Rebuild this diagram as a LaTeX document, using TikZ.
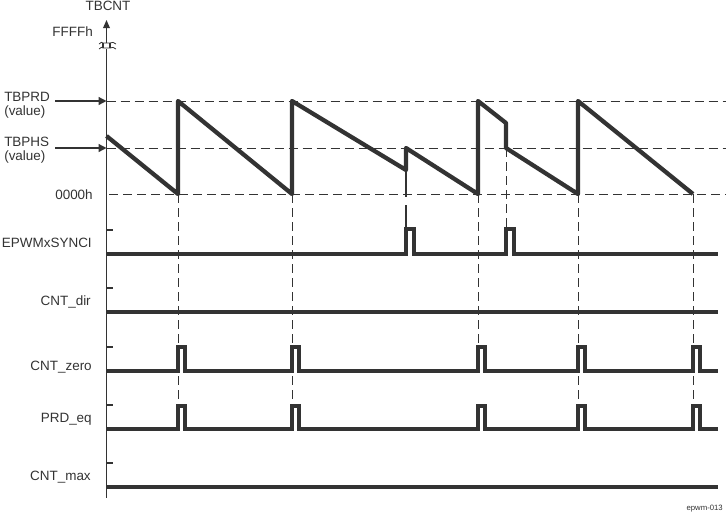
\documentclass[tikz,border=0pt]{standalone}
\usepackage{fontspec}
\setmainfont{Liberation Sans}
\usetikzlibrary{arrows.meta}
\definecolor{ink}{HTML}{333333}
\begin{document}
\begin{tikzpicture}[x=0.75pt,y=-0.75pt,
  lbl/.style={font=\fontsize{10.1}{12}\selectfont, text=ink, inner sep=0pt},
  guide/.style={ink, line width=0.75pt, dash pattern=on 6.75pt off 3.75pt},
  wave/.style={ink, line width=2.5pt, line join=miter},
  saw/.style={ink, line width=3.2pt, line join=round},
  tickm/.style={ink, line width=2pt},
  axisl/.style={ink, line width=1pt},
  lvlarrow/.style={axisl, -{Triangle[length=6pt,width=6pt]}}]
\useasboundingbox (0,0) rectangle (726,515);

% labels
\node[lbl, anchor=base] (tbcnt) at (108,10) {TBCNT};
\node[lbl, anchor=base east] (ffff) at (93,36) {FFFFh};
\node[lbl, anchor=base west] (tbprd) at (4,101) {TBPRD};
\node[lbl, anchor=base west] (tbprdv) at (4,115.5) {(value)};
\node[lbl, anchor=base west] (tbphs) at (4,146.5) {TBPHS};
\node[lbl, anchor=base west] (tbphsv) at (4,160.5) {(value)};
\node[lbl, anchor=base east] (zero) at (93,199) {0000h};
\node[lbl, anchor=base east] (sync) at (92,247) {EPWMxSYNCI};
\node[lbl, anchor=base east] (dir) at (91,305) {CNT\_dir};
\node[lbl, anchor=base east] (czero) at (92,370) {CNT\_zero};
\node[lbl, anchor=base east] (prdeq) at (92,422) {PRD\_eq};
\node[lbl, anchor=base east] (cmax) at (91,480) {CNT\_max};
\node[font=\fontsize{5.8}{7}\selectfont, text=ink, inner sep=0pt, anchor=base east] (fig) at (723,510) {epwm-013};

% horizontal guides
\draw[guide] (106.5,101) -- (726,101);
\draw[guide] (106.5,148) -- (726,148);
\draw[guide] (109,194) -- (726,194);

% level arrows
\coordinate (prdA) at (55,101);
\coordinate (prdB) at (106.5,101);
\coordinate (phsA) at (55,148);
\coordinate (phsB) at (106.5,148);
\draw[lvlarrow] (prdA) -- (prdB);
\draw[lvlarrow] (phsA) -- (phsB);

% axis
\coordinate (axtop) at (106.5,20);
\coordinate (axbrk1) at (106.5,43);
\coordinate (axbrk2) at (106.5,49);
\coordinate (axbot) at (106.5,498);
\draw[axisl, -{Triangle[length=6pt,width=5pt]}] (axbrk1) -- (axtop);
\draw[axisl] (axbrk2) -- (axbot);
% break symbol
\draw[ink, line width=0.6pt] (99,44) .. controls (101,42) and (102,42) .. (103,43) -- (110,43) .. controls (112,42) and (114,42) .. (116,44);
\draw[ink, line width=0.6pt] (99,49) .. controls (101,47) and (102,47) .. (103,48) -- (110,48) .. controls (112,47) and (114,47) .. (116,49);
\draw[ink, line width=0.8pt] (103,43) -- (103,48);
\draw[ink, line width=0.8pt] (110,43) -- (110,48);

% sawtooth
\draw[saw] (106.5,136) -- (178,194) -- (178,101) -- (292,194) -- (292,101)
  -- (406,170) -- (406,148) -- (478,194) -- (478,101) -- (506,123)
  -- (506,148) -- (578,194) -- (578,101) -- (693,194);

% vertical guides
\draw[guide] (178,194) -- (178,406);
\draw[guide] (292,194) -- (292,406);
\draw[guide] (478,194) -- (478,347);
\draw[guide] (578,194) -- (578,406);
\draw[guide] (693,194) -- (693,406);
\draw[ink, line width=2pt] (406,170) -- (406,197);
\draw[ink, line width=2pt] (406,205) -- (406,229);
\draw[guide] (506,148) -- (506,229);

% row ticks
\foreach \yy in {230,288,347,405,463}
  \draw[tickm] (107,\yy) -- (113,\yy);

% EPWMxSYNCI
\draw[wave] (106.5,254) -- (406,254) -- (406,229) -- (414,229) -- (414,254)
  -- (506,254) -- (506,229) -- (514,229) -- (514,254) -- (718,254);
% CNT_dir
\draw[wave] (106.5,312) -- (718,312);
% CNT_zero
\draw[wave] (106.5,371)
  \foreach \px in {178,292,478,578,693} { -- (\px,371) -- (\px,347) -- (\px+7,347) -- (\px+7,371) }
  -- (718,371);
% PRD_eq
\draw[wave] (106.5,429)
  \foreach \px in {178,292,478,578,693} { -- (\px,429) -- (\px,406) -- (\px+7,406) -- (\px+7,429) }
  -- (718,429);
% CNT_max
\draw[wave] (106.5,487) -- (718,487);
\end{tikzpicture}
\end{document}
